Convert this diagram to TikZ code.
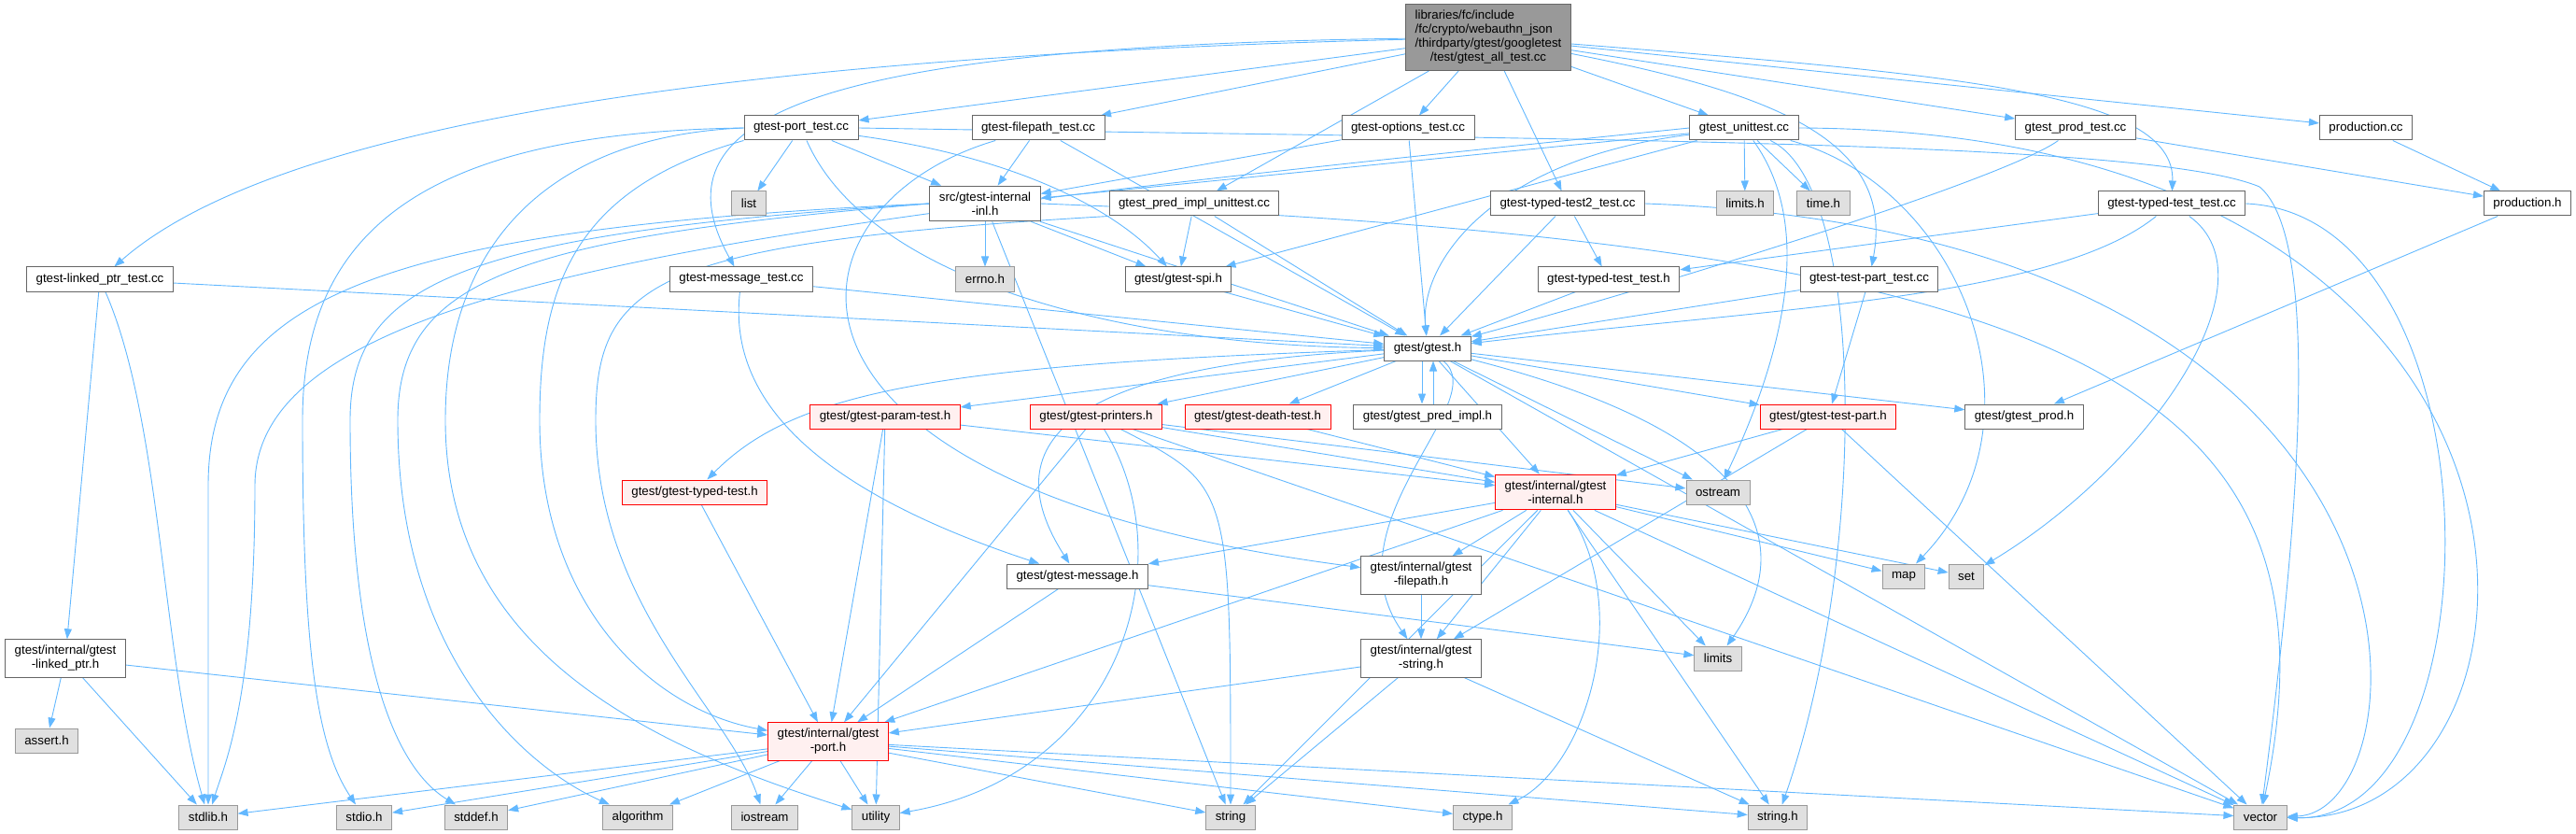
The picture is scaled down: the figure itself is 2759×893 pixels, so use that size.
\documentclass[tikz,border=0pt]{standalone}
\usepackage{fontspec}
\setmainfont{Liberation Sans}
\usetikzlibrary{arrows.meta}
\definecolor{edgeblue}{HTML}{63B8FF}
\definecolor{boxgray}{HTML}{666666}
\definecolor{sysgray}{HTML}{999999}
\definecolor{sysfill}{HTML}{E0E0E0}
\definecolor{rootfill}{HTML}{999999}
\definecolor{truncfill}{HTML}{FFF0F0}
\newcommand{\dxfont}{\fontsize{13.3}{15}\selectfont}
\pgfdeclarelayer{background}
\pgfsetlayers{background,main}
\tikzset{
  file/.style={draw=boxgray,fill=white,line width=1pt,font=\dxfont,minimum height=26pt,
    inner xsep=10pt,inner ysep=6.5pt,align=center},
  sys/.style={file,draw=sysgray,fill=sysfill},
  trunc/.style={file,draw=red,fill=truncfill},
  topfile/.style={file,fill=rootfill,inner ysep=5.5pt},
  inc/.style={draw=edgeblue,line width=0.9pt,-{Triangle[length=11pt,width=8pt]}}
}
\begin{document}
\begin{tikzpicture}[x=1pt,y=-1pt]
\useasboundingbox (0,0) rectangle (2759,893);
\node[topfile] (root) at (1594,40) {\begin{tabular}{@{}l@{}}libraries/fc/include\\/fc/crypto/webauthn\_json\\/thirdparty/gtest/googletest\\\multicolumn{1}{@{}c@{}}{/test/gtest\_all\_test.cc}\end{tabular}};
\node[file] (portT) at (858,137) {gtest-port\_test.cc};
\node[file] (fpathT) at (1112,137) {gtest-filepath\_test.cc};
\node[file] (optT) at (1508,137) {gtest-options\_test.cc};
\node[file] (unitT) at (1868,137) {gtest\_unittest.cc};
\node[file] (prodT) at (2223,137) {gtest\_prod\_test.cc};
\node[file] (prodcc) at (2534,137) {production.cc};
\node[sys] (list) at (802,218) {list};
\node[file] (inl) at (1055,218) {src/gtest-internal\\-inl.h};
\node[file] (predT) at (1279,218) {gtest\_pred\_impl\_unittest.cc};
\node[file] (typed2T) at (1679,218) {gtest-typed-test2\_test.cc};
\node[sys] (limitsh) at (1869,218) {limits.h};
\node[sys] (timeh) at (1953,218) {time.h};
\node[file] (typedT) at (2326,218) {gtest-typed-test\_test.cc};
\node[file] (prodh) at (2707,218) {production.h};
\node[file] (linkedT) at (107,299) {gtest-linked\_ptr\_test.cc};
\node[file] (msgT) at (794,299) {gtest-message\_test.cc};
\node[sys] (errno) at (1055,299) {errno.h};
\node[file] (spi) at (1262,299) {gtest/gtest-spi.h};
\node[file] (typedTh) at (1723,299) {gtest-typed-test\_test.h};
\node[file] (tpartT) at (2002,299) {gtest-test-part\_test.cc};
\node[file] (gtest) at (1529,373) {gtest/gtest.h};
\node[trunc] (param) at (948,446) {gtest/gtest-param-test.h};
\node[trunc] (printers) at (1174,446) {gtest/gtest-printers.h};
\node[trunc] (death) at (1347,446) {gtest/gtest-death-test.h};
\node[file] (predimpl) at (1529,446) {gtest/gtest\_pred\_impl.h};
\node[trunc] (tpart) at (1958,446) {gtest/gtest-test-part.h};
\node[file] (gprod) at (2168,446) {gtest/gtest\_prod.h};
\node[trunc] (typedtest) at (744,527) {gtest/gtest-typed-test.h};
\node[trunc] (internal) at (1666,527) {gtest/internal/gtest\\-internal.h};
\node[sys] (ostream) at (1840,527) {ostream};
\node[file] (message) at (1154,617) {gtest/gtest-message.h};
\node[file] (filepath) at (1522,616) {gtest/internal/gtest\\-filepath.h};
\node[sys] (map) at (2039,617) {map};
\node[sys] (set) at (2106,617) {set};
\node[file] (linked) at (70,705) {gtest/internal/gtest\\-linked\_ptr.h};
\node[file] (gstring) at (1522,705) {gtest/internal/gtest\\-string.h};
\node[sys] (limits) at (1840,705) {limits};
\node[sys] (assert) at (50,793) {assert.h};
\node[trunc] (port) at (887,794) {gtest/internal/gtest\\-port.h};
\node[sys] (stdlib) at (223,875) {stdlib.h};
\node[sys] (stdio) at (390,875) {stdio.h};
\node[sys] (stddef) at (510,875) {stddef.h};
\node[sys] (algorithm) at (683,875) {algorithm};
\node[sys] (iostream) at (819,875) {iostream};
\node[sys] (utility) at (938,875) {utility};
\node[sys] (string) at (1318,875) {string};
\node[sys] (ctype) at (1588,875) {ctype.h};
\node[sys] (stringh) at (1904,875) {string.h};
\node[sys] (vector) at (2421,875) {vector};
\begin{pgfonlayer}{background}
\draw[inc] (root) -- (portT);
\draw[inc] (root) -- (fpathT);
\draw[inc] (root) -- (optT);
\draw[inc] (root) -- (predT);
\draw[inc] (root) -- (typed2T);
\draw[inc] (root) -- (unitT);
\draw[inc] (root) -- (prodT);
\draw[inc] (root) -- (prodcc);
\draw[inc] (root) .. controls (800,60) and (300,130) .. (linkedT);
\draw[inc] (root) .. controls (850,50) and (700,130) .. (msgT);
\draw[inc] (root) .. controls (1900,100) and (2030,150) .. (tpartT);
\draw[inc] (root) .. controls (2100,80) and (2330,100) .. (typedT);
\draw[inc] (linkedT) -- (gtest);
\draw[inc] (linkedT) -- (linked);
\draw[inc] (linkedT) .. controls (173,450) and (173,700) .. (stdlib);
\draw[inc] (linked) -- (assert);
\draw[inc] (linked) -- (stdlib);
\draw[inc] (linked) -- (port);
\draw[inc] (portT) -- (list);
\draw[inc] (portT) -- (inl);
\draw[inc] (portT) .. controls (1100,170) and (1200,230) .. (spi);
\draw[inc] (portT) .. controls (930,300) and (1200,370) .. (gtest);
\draw[inc] (portT.south west) .. controls (620,200) and (578,300) .. (578,450) .. controls (578,650) and (700,760) .. (port);
\draw[inc] (portT.west) .. controls (450,142) and (324,250) .. (324,450) .. controls (324,700) and (340,800) .. (stdio);
\draw[inc] (portT.west) .. controls (600,145) and (477,250) .. (477,450) .. controls (477,700) and (700,800) .. (utility);
\draw[inc] (portT.east) .. controls (1700,150) and (2300,150) .. (2420,200) .. controls (2480,250) and (2470,500) .. (vector);
\draw[inc] (inl) -- (errno);
\draw[inc] (inl) -- (spi);
\draw[inc] (inl) -- (gtest);
\draw[inc] (inl.west) .. controls (400,245) and (223,320) .. (223,520) -- (stdlib);
\draw[inc] (inl.west) .. controls (500,250) and (375,300) .. (375,450) .. controls (375,700) and (420,820) .. (stddef);
\draw[inc] (inl.west) .. controls (550,255) and (426,300) .. (426,450) .. controls (426,700) and (560,820) .. (algorithm);
\draw[inc] (inl) -- (string);
\draw[inc] (inl.east) .. controls (2200,260) and (2521,400) .. (vector);
\draw[inc] (fpathT) -- (inl);
\draw[inc] (fpathT) -- (gtest);
\draw[inc] (fpathT) .. controls (830,220) and (780,520) .. (filepath);
\draw[inc] (optT) -- (inl);
\draw[inc] (optT) -- (gtest);
\draw[inc] (predT) -- (spi);
\draw[inc] (predT) -- (gtest);
\draw[inc] (predT.south west) .. controls (700,260) and (638,300) .. (638,450) .. controls (638,650) and (780,760) .. (iostream);
\draw[inc] (typed2T) -- (typedTh);
\draw[inc] (typed2T) -- (gtest);
\draw[inc] (typed2T.east) .. controls (2650,250) and (2600,870) .. (vector);
\draw[inc] (unitT) -- (inl);
\draw[inc] (unitT) -- (spi);
\draw[inc] (unitT) .. controls (1600,170) and (1520,280) .. (gtest);
\draw[inc] (unitT) -- (limitsh);
\draw[inc] (unitT) -- (timeh);
\draw[inc] (unitT.west) .. controls (800,240) and (273,300) .. (273,520) .. controls (273,750) and (240,820) .. (stdlib);
\draw[inc] (unitT) .. controls (2100,200) and (2200,450) .. (map);
\draw[inc] (unitT) .. controls (1950,250) and (1900,400) .. (ostream);
\draw[inc] (unitT) .. controls (2000,200) and (2000,600) .. (stringh);
\draw[inc] (unitT.east) .. controls (2800,140) and (2760,880) .. (vector);
\draw[inc] (tpartT) -- (tpart);
\draw[inc] (tpartT) -- (gtest);
\draw[inc] (prodT) .. controls (2150,190) and (1800,300) .. (gtest);
\draw[inc] (prodT) -- (prodh);
\draw[inc] (prodcc) -- (prodh);
\draw[inc] (prodh) -- (gprod);
\draw[inc] (typedT) -- (typedTh);
\draw[inc] (typedT) .. controls (2200,320) and (1900,330) .. (gtest);
\draw[inc] (typedT) .. controls (2440,300) and (2300,500) .. (set);
\draw[inc] (typedT.east) .. controls (2680,230) and (2680,880) .. (vector);
\draw[inc] (typedTh) -- (gtest);
\draw[inc] (msgT) -- (gtest);
\draw[inc] (msgT) .. controls (780,420) and (860,520) .. (message);
\draw[inc] (spi) -- (gtest);
\draw[inc] (gtest) -- (param);
\draw[inc] (gtest) -- (printers);
\draw[inc] (gtest) -- (death);
\draw[inc] ([xshift=-6pt]gtest.south) -- ([xshift=-6pt]predimpl.north);
\draw[inc] ([xshift=6pt]predimpl.north) -- ([xshift=6pt]gtest.south);
\draw[inc] (gtest) -- (tpart);
\draw[inc] (gtest) -- (gprod);
\draw[inc] (gtest) .. controls (1000,390) and (850,420) .. (typedtest);
\draw[inc] (gtest) .. controls (1150,390) and (1060,470) .. (message);
\draw[inc] (gtest) -- (internal);
\draw[inc] (gtest) .. controls (1600,430) and (1420,560) .. (gstring);
\draw[inc] (gtest) -- (ostream);
\draw[inc] (gtest) .. controls (1950,480) and (1900,620) .. (limits);
\draw[inc] (gtest) -- (vector);
\draw[inc] (param) -- (port);
\draw[inc] (param) -- (internal);
\draw[inc] (param) -- (utility);
\draw[inc] (printers) -- (port);
\draw[inc] (printers) -- (internal);
\draw[inc] (printers) -- (ostream);
\draw[inc] (printers) .. controls (1270,600) and (1200,830) .. (utility);
\draw[inc] (printers) .. controls (1318,520) .. (string);
\draw[inc] (printers) -- (vector);
\draw[inc] (death) -- (internal);
\draw[inc] (typedtest) -- (port);
\draw[inc] (tpart) -- (internal);
\draw[inc] (tpart) -- (gstring);
\draw[inc] (tpart) -- (vector);
\draw[inc] (internal) -- (port);
\draw[inc] (internal) -- (message);
\draw[inc] (internal) -- (filepath);
\draw[inc] (internal) -- (gstring);
\draw[inc] (internal) .. controls (1750,650) and (1700,820) .. (ctype);
\draw[inc] (internal) -- (stringh);
\draw[inc] (internal) -- (string);
\draw[inc] (internal) -- (limits);
\draw[inc] (internal) -- (map);
\draw[inc] (internal) -- (set);
\draw[inc] (internal) -- (vector);
\draw[inc] (message) -- (port);
\draw[inc] (message) -- (limits);
\draw[inc] (filepath) -- (gstring);
\draw[inc] (gstring) -- (port);
\draw[inc] (gstring) -- (string);
\draw[inc] (gstring) -- (stringh);
\draw[inc] (port) -- (stdlib);
\draw[inc] (port) -- (stdio);
\draw[inc] (port) -- (stddef);
\draw[inc] (port) -- (algorithm);
\draw[inc] (port) -- (iostream);
\draw[inc] (port) -- (utility);
\draw[inc] (port) -- (string);
\draw[inc] (port) -- (ctype);
\draw[inc] (port) -- (stringh);
\draw[inc] (port) -- (vector);
\end{pgfonlayer}
\end{tikzpicture}
\end{document}
